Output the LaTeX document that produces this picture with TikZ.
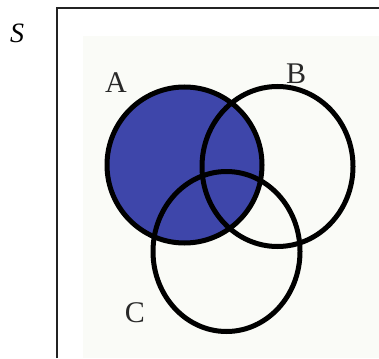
\documentclass[tikz,border=0pt]{standalone}
\usepackage{fontspec}
\setmainfont{Liberation Serif}
\definecolor{vennblue}{RGB}{62,70,170}
\definecolor{paper}{RGB}{250,251,247}
\definecolor{framegray}{RGB}{35,35,35}
\definecolor{labelgray}{RGB}{40,40,40}
\begin{document}
\begin{tikzpicture}[x=1pt,y=-1pt,
  ring/.style={line width=5pt,draw=black},
  setlabel/.style={font=\fontsize{30}{32}\selectfont,text=labelgray,inner sep=0pt}]
\useasboundingbox (0,0) rectangle (379,358);
\fill[white] (0,0) rectangle (379,358);
\fill[paper] (83,36) rectangle (379,358);
\draw[framegray,line width=1.8pt] (57,358) -- (57,8) -- (379,8);
\fill[vennblue] (184.5,165) ellipse [x radius=77.5,y radius=78];
\draw[ring] (184.5,165) ellipse [x radius=77.5,y radius=78];
\draw[ring] (277.5,166.5) ellipse [x radius=75.5,y radius=80];
\draw[ring] (226.5,251.5) ellipse [x radius=73.5,y radius=80];
\node[setlabel] (la) at (116,83) {A};
\node[setlabel] (lb) at (296,74) {B};
\node[setlabel] (lc) at (135,313) {C};
\node[inner sep=0pt,font=\fontsize{28}{30}\selectfont] (ls) at (17,33) {\textit{S}};
\end{tikzpicture}
\end{document}
